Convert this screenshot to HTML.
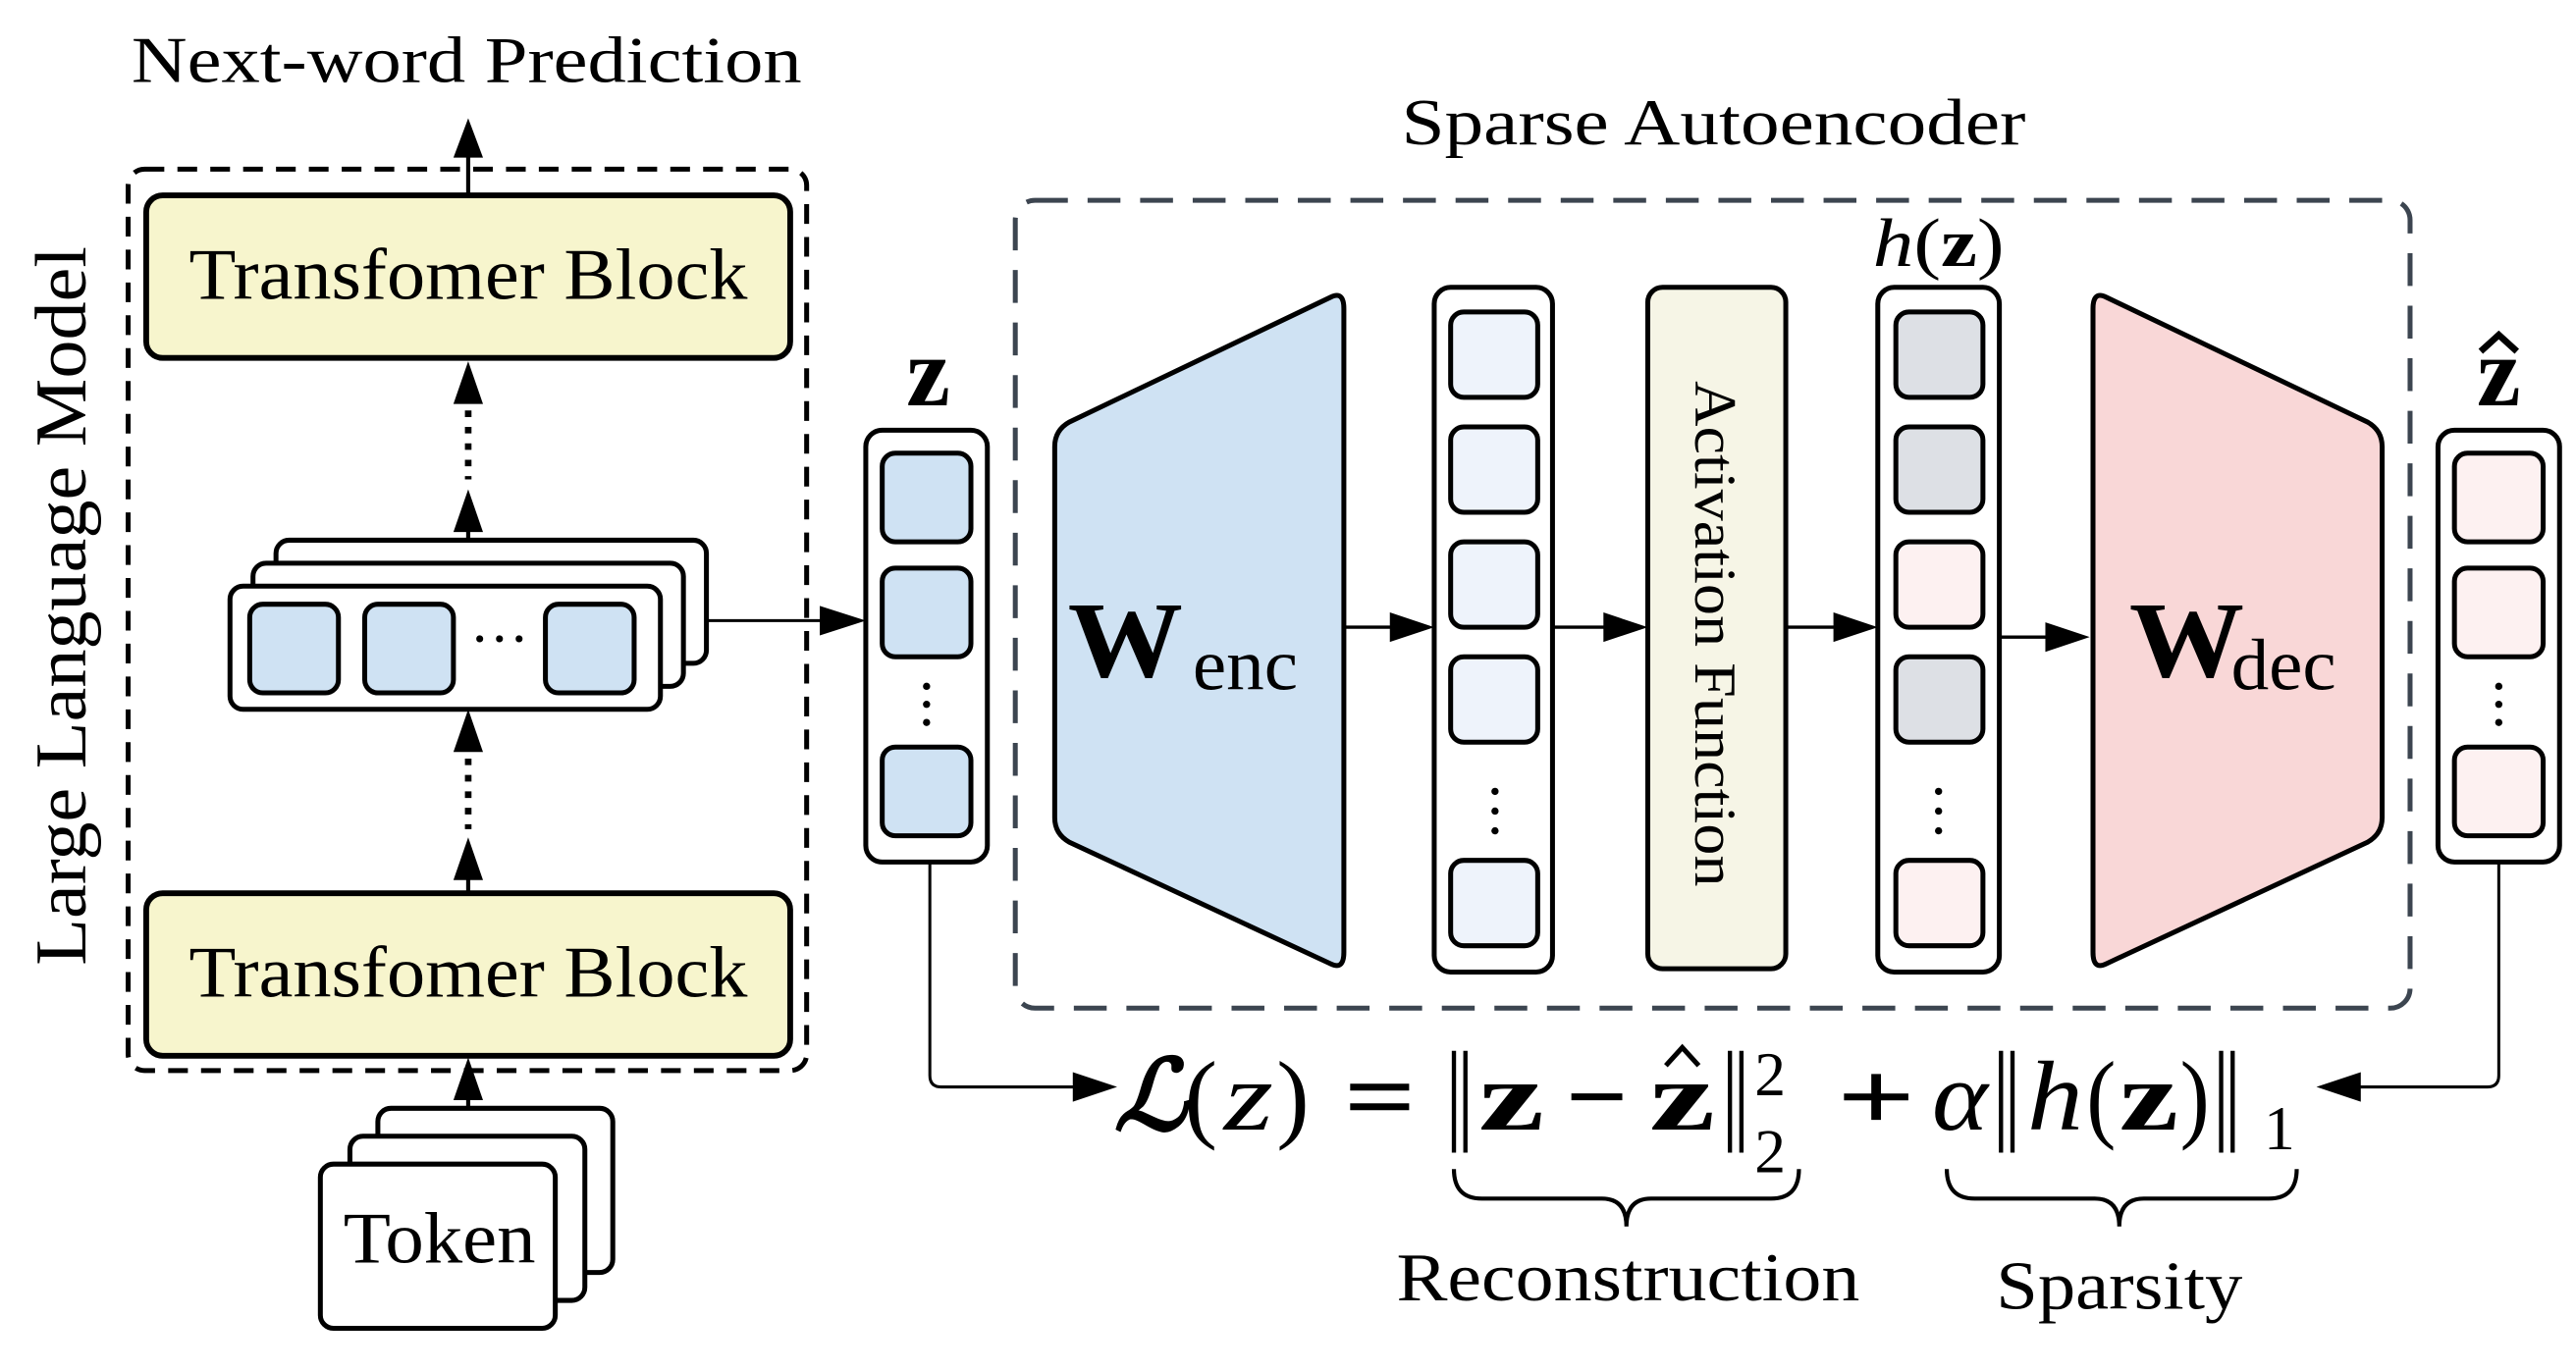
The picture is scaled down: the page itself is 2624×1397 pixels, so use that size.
<!DOCTYPE html>
<html><head><meta charset="utf-8"><style>
html,body{margin:0;padding:0;background:#fff;}
svg{display:block;}
text{font-family:"Liberation Serif","DejaVu Serif",serif;fill:#000;}
</style></head><body>
<svg width="2624" height="1397" viewBox="0 0 1568 835" preserveAspectRatio="none" xmlns="http://www.w3.org/2000/svg">
<g fill="#000">
<path d="M285 72 L276 96 L294 96 Z"/>
<path d="M285 220 L276 246 L294 246 Z"/>
<path d="M285 298 L276 324 L294 324 Z"/>
<path d="M285 432 L276 458 L294 458 Z"/>
<path d="M285 510 L276 536 L294 536 Z"/>
<path d="M285 644 L276 670 L294 670 Z"/>
<path d="M527 378 L499 369 L499 387 Z"/>
<path d="M873 382 L846 373 L846 391 Z"/>
<path d="M1003 382 L976 373 L976 391 Z"/>
<path d="M1143 382 L1116 373 L1116 391 Z"/>
<path d="M1272 388 L1245 379 L1245 397 Z"/>
<path d="M680 662 L653 653 L653 671 Z"/>
<path d="M1410 662 L1437 653 L1437 671 Z"/>
</g>
<g stroke="#000" stroke-width="2.5" fill="none">
<line x1="285" y1="92" x2="285" y2="120"/>
<line x1="285" y1="320" x2="285" y2="330"/>
<line x1="285" y1="534" x2="285" y2="545"/>
<line x1="285" y1="668" x2="285" y2="676"/>
<line x1="285" y1="250" x2="285" y2="292" stroke-dasharray="4 6" stroke-width="4"/>
<line x1="285" y1="462" x2="285" y2="505" stroke-dasharray="4 6" stroke-width="4"/>
<line x1="430" y1="378" x2="500" y2="378" stroke-width="1.8"/>
<line x1="818" y1="382" x2="848" y2="382" stroke-width="2"/>
<line x1="945" y1="382" x2="978" y2="382" stroke-width="2"/>
<line x1="1087" y1="382" x2="1118" y2="382" stroke-width="2"/>
<line x1="1217" y1="388" x2="1247" y2="388" stroke-width="2"/>
<path d="M566 525 L566 655 Q566 662 573 662 L655 662" stroke-width="1.8"/>
<path d="M1521 525 L1521 655 Q1521 662 1514 662 L1435 662" stroke-width="1.8"/>
</g>
<text x="80" y="50" font-size="40" textLength="408" lengthAdjust="spacingAndGlyphs">Next-word Prediction</text>
<rect x="78" y="103" width="413" height="549" rx="10" fill="none" stroke="#000" stroke-width="3" stroke-dasharray="12 8"/>
<text transform="translate(52,369) rotate(-90)" font-size="44" text-anchor="middle" textLength="438" lengthAdjust="spacingAndGlyphs">Large Language Model</text>
<rect x="89" y="119" width="392" height="99" rx="10" fill="#f7f5cd" stroke="#000" stroke-width="3.5"/>
<text x="115" y="182" font-size="44" textLength="340" lengthAdjust="spacingAndGlyphs">Transfomer Block</text>
<rect x="89" y="544" width="392" height="99" rx="10" fill="#f7f5cd" stroke="#000" stroke-width="3.5"/>
<text x="115" y="607" font-size="44" textLength="340" lengthAdjust="spacingAndGlyphs">Transfomer Block</text>
<g stroke="#000" stroke-width="3" fill="#fff">
<rect x="168" y="329" width="262" height="75" rx="8"/>
<rect x="154" y="343" width="262" height="75" rx="8"/>
<rect x="140" y="357" width="262" height="75" rx="8"/>
<g fill="#cfe2f3"><rect x="152" y="368" width="54" height="54" rx="8"/><rect x="222" y="368" width="54" height="54" rx="8"/><rect x="332" y="368" width="54" height="54" rx="8"/></g>
<rect x="230" y="675" width="143" height="100" rx="8"/>
<rect x="213" y="692" width="143" height="100" rx="8"/>
<rect x="195" y="709" width="143" height="100" rx="8"/>
</g>
<text x="304" y="401" font-size="36" text-anchor="middle">···</text>
<text x="209" y="769" font-size="44" textLength="117" lengthAdjust="spacingAndGlyphs">Token</text>
<text x="565" y="247" font-size="60" font-weight="bold" text-anchor="middle">z</text>
<rect x="527" y="262" width="74" height="263" rx="10" fill="#fff" stroke="#000" stroke-width="3"/>
<g stroke="#000" stroke-width="3" fill="#cfe2f3"><rect x="537" y="276" width="54" height="54" rx="8"/><rect x="537" y="346" width="54" height="54" rx="8"/><rect x="537" y="455" width="54" height="54" rx="8"/></g>
<g fill="#000"><circle cx="564" cy="418" r="2.2"/><circle cx="564" cy="429" r="2.2"/><circle cx="564" cy="440" r="2.2"/></g>
<text x="853" y="88" font-size="40" textLength="380" lengthAdjust="spacingAndGlyphs">Sparse Autoencoder</text>
<rect x="618" y="122" width="849" height="492" rx="12" fill="none" stroke="#3c4550" stroke-width="3" stroke-dasharray="20 12"/>
<path d="M642 272 Q642 262 651 257 L810 181 Q818 177 818 188 L818 580 Q818 591 810 587 L651 513 Q642 508 642 498 Z" fill="#cfe2f3" stroke="#000" stroke-width="3"/>
<text x="650" y="412" font-size="66" font-weight="bold" textLength="70" lengthAdjust="spacingAndGlyphs">W</text>
<text x="726" y="420" font-size="44" textLength="64" lengthAdjust="spacingAndGlyphs">enc</text>
<path d="M1450 272 Q1450 262 1441 257 L1282 181 Q1274 177 1274 188 L1274 580 Q1274 591 1282 587 L1441 513 Q1450 508 1450 498 Z" fill="#f9d7d7" stroke="#000" stroke-width="3"/>
<text x="1296" y="412" font-size="66" font-weight="bold" textLength="70" lengthAdjust="spacingAndGlyphs">W</text>
<text x="1358" y="420" font-size="44" textLength="64" lengthAdjust="spacingAndGlyphs">dec</text>
<rect x="873" y="175" width="72" height="417" rx="10" fill="#fff" stroke="#000" stroke-width="3"/>
<g stroke="#000" stroke-width="3" fill="#eef3fb"><rect x="883" y="190" width="53" height="52" rx="8"/><rect x="883" y="260" width="53" height="52" rx="8"/><rect x="883" y="330" width="53" height="52" rx="8"/><rect x="883" y="400" width="53" height="52" rx="8"/><rect x="883" y="524" width="53" height="52" rx="8"/></g>
<g fill="#000"><circle cx="910" cy="482" r="2.2"/><circle cx="910" cy="494" r="2.2"/><circle cx="910" cy="506" r="2.2"/></g>
<rect x="1003" y="175" width="84" height="415" rx="9" fill="#f6f5e6" stroke="#000" stroke-width="3"/>
<text transform="translate(1032,232) rotate(90)" font-size="36" textLength="308" lengthAdjust="spacingAndGlyphs">Activation Function</text>
<text x="1140" y="162" font-size="42" textLength="80" lengthAdjust="spacingAndGlyphs"><tspan font-style="italic">h</tspan>(<tspan font-weight="bold">z</tspan>)</text>
<rect x="1143" y="175" width="74" height="417" rx="10" fill="#fff" stroke="#000" stroke-width="3"/>
<g stroke="#000" stroke-width="3"><rect x="1154" y="190" width="53" height="52" rx="8" fill="#dde0e5"/><rect x="1154" y="260" width="53" height="52" rx="8" fill="#dde0e5"/><rect x="1154" y="330" width="53" height="52" rx="8" fill="#fdf1f1"/><rect x="1154" y="400" width="53" height="52" rx="8" fill="#dde0e5"/><rect x="1154" y="524" width="53" height="52" rx="8" fill="#fdf1f1"/></g>
<g fill="#000"><circle cx="1180" cy="482" r="2.2"/><circle cx="1180" cy="494" r="2.2"/><circle cx="1180" cy="506" r="2.2"/></g>
<text x="1521" y="247" font-size="60" font-weight="bold" text-anchor="middle">z</text>
<path d="M1510 214 L1521 204 L1532 214" stroke="#000" stroke-width="4" fill="none"/>
<rect x="1484" y="262" width="74" height="263" rx="10" fill="#fff" stroke="#000" stroke-width="3"/>
<g stroke="#000" stroke-width="3" fill="#fdf1f1"><rect x="1494" y="276" width="54" height="54" rx="8"/><rect x="1494" y="346" width="54" height="54" rx="8"/><rect x="1494" y="455" width="54" height="54" rx="8"/></g>
<g fill="#000"><circle cx="1521" cy="418" r="2.2"/><circle cx="1521" cy="429" r="2.2"/><circle cx="1521" cy="440" r="2.2"/></g>
<!-- equation -->
<g font-size="60">
<text x="678" y="688" font-style="italic" font-weight="bold" textLength="44" lengthAdjust="spacingAndGlyphs">ℒ</text>
<text x="721" y="688" textLength="20" lengthAdjust="spacingAndGlyphs">(</text>
<text x="745" y="688" font-style="italic" textLength="30" lengthAdjust="spacingAndGlyphs">z</text>
<text x="777" y="688" textLength="20" lengthAdjust="spacingAndGlyphs">)</text>
<text x="818" y="688" font-weight="bold" textLength="44" lengthAdjust="spacingAndGlyphs">=</text>
<text x="900" y="688" font-weight="bold" textLength="40" lengthAdjust="spacingAndGlyphs">z</text>
<text x="953" y="688" font-weight="bold" textLength="38" lengthAdjust="spacingAndGlyphs">−</text>
<text x="1004" y="688" font-weight="bold" textLength="40" lengthAdjust="spacingAndGlyphs">z</text>
<text x="1118" y="688" font-weight="bold" textLength="48" lengthAdjust="spacingAndGlyphs">+</text>
<text x="1176" y="688" font-style="italic" textLength="34" lengthAdjust="spacingAndGlyphs">α</text>
<text x="1234" y="688" font-style="italic" textLength="34" lengthAdjust="spacingAndGlyphs">h</text>
<text x="1270" y="688" textLength="18" lengthAdjust="spacingAndGlyphs">(</text>
<text x="1290" y="688" font-weight="bold" textLength="36" lengthAdjust="spacingAndGlyphs">z</text>
<text x="1327" y="688" textLength="18" lengthAdjust="spacingAndGlyphs">)</text>
</g>
<path d="M1014 649 L1024 638 L1034 649" stroke="#000" stroke-width="3" fill="none"/>
<g stroke="#000" stroke-width="2.6">
<line x1="885" y1="640" x2="885" y2="702"/><line x1="892" y1="640" x2="892" y2="702"/>
<line x1="1053" y1="640" x2="1053" y2="702"/><line x1="1060" y1="640" x2="1060" y2="702"/>
<line x1="1218" y1="640" x2="1218" y2="702"/><line x1="1225" y1="640" x2="1225" y2="702"/>
<line x1="1352" y1="640" x2="1352" y2="702"/><line x1="1359" y1="640" x2="1359" y2="702"/>
</g>
<text x="1068" y="667" font-size="38">2</text>
<text x="1068" y="714" font-size="38">2</text>
<text x="1378" y="700" font-size="38">1</text>
<g stroke="#000" stroke-width="2.5" fill="none">
<path d="M885 712 Q885 730 902 730 L975 730 Q990 730 990 747 Q990 730 1005 730 L1078 730 Q1095 730 1095 712"/>
<path d="M1185 712 Q1185 730 1202 730 L1275 730 Q1290 730 1290 747 Q1290 730 1305 730 L1381 730 Q1398 730 1398 712"/>
</g>
<text x="850" y="792" font-size="42" textLength="282" lengthAdjust="spacingAndGlyphs">Reconstruction</text>
<text x="1215" y="797" font-size="42" textLength="150" lengthAdjust="spacingAndGlyphs">Sparsity</text>
</svg>
</body></html>
